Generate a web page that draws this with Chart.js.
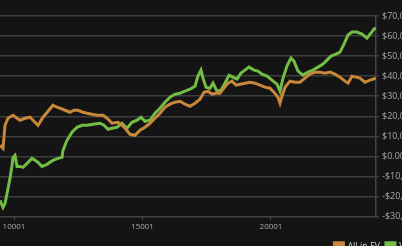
<!DOCTYPE html>
<html>
<head>
<meta charset="utf-8">
<script src="https://cdn.jsdelivr.net/npm/chart.js@4"></script>
<style>
  html, body { margin: 0; padding: 0; background: #141414; overflow: hidden; }
  #wrap { width: 402px; height: 246px; overflow: hidden; }
</style>
</head>
<body>
<div id="wrap"><canvas id="c" width="770" height="261"></canvas></div>
<script>
const seriesNames = ['All-in-EV', 'Winnings'];
const tickHands = [10001, 15001, 20001];
const yTicks = [-30000, -20000, -10000, 0, 10000, 20000, 30000, 40000, 50000, 60000, 70000];

const evHands = [9456, 9573, 9651, 9768, 9962, 10118, 10234, 10429, 10624, 10779,
  10935, 11129, 11324, 11518, 11674, 11791, 11985, 12180, 12336, 12491,
  12686, 12841, 13036, 13231, 13464, 13620, 13814, 14048, 14203, 14320,
  14515, 14709, 14904, 15098, 15293, 15487, 15682, 15876, 16071, 16266,
  16460, 16655, 16849, 17044, 17238, 17394, 17550, 17705, 17861, 18016,
  18172, 18328, 18483, 18639, 18795, 18989, 19184, 19378, 19573, 19768,
  19962, 20118, 20273, 20351, 20429, 20546, 20740, 20935, 21129, 21324,
  21518, 21713, 21907, 22102, 22297, 22491, 22686, 22880, 22997, 23153,
  23308, 23464, 23658, 23853, 24080];
const evValues = [5500, 4000, 15500, 19000, 20500, 19000, 18000, 19000, 19500, 17500,
  15500, 19500, 22500, 25500, 24500, 24000, 23000, 22000, 23000, 23000,
  22000, 21500, 21000, 20500, 20500, 19000, 16500, 17000, 15500, 14000,
  11000, 10500, 13000, 14500, 16500, 19000, 21500, 24500, 26000, 27000,
  27500, 26000, 25000, 26500, 28500, 32000, 32500, 31000, 31500, 31500,
  34000, 36500, 37500, 35500, 36000, 36500, 37000, 36500, 35500, 34500,
  34000, 32000, 29500, 26500, 30000, 34500, 37500, 37000, 37000, 39000,
  41000, 42000, 42000, 41500, 42000, 41000, 39500, 37500, 36500, 40000,
  39500, 39000, 37000, 38000, 39000];

const winHands = [9456, 9573, 9651, 9768, 9845, 9923, 9962, 10040, 10118, 10234,
  10351, 10507, 10701, 10896, 11090, 11285, 11518, 11713, 11869, 11908,
  12063, 12258, 12452, 12647, 12841, 13075, 13347, 13503, 13659, 13814,
  14009, 14203, 14398, 14592, 14787, 14943, 15098, 15293, 15487, 15682,
  15876, 16071, 16266, 16460, 16655, 16849, 17044, 17160, 17277, 17355,
  17472, 17627, 17744, 17900, 18055, 18211, 18367, 18522, 18678, 18834,
  18989, 19145, 19339, 19495, 19651, 19846, 20040, 20234, 20351, 20468,
  20623, 20779, 20896, 21051, 21246, 21441, 21635, 21830, 22024, 22180,
  22336, 22530, 22686, 22841, 22997, 23153, 23347, 23542, 23736, 23892,
  24009, 24087];
const winValues = [-22000, -25500, -23500, -16000, -11000, -4500, -500, 500, -5000, -5000,
  -5500, -3500, -1000, -2500, -5000, -4000, -2000, -1000, -500, 3000,
  8000, 12000, 14500, 15500, 15500, 16000, 16500, 15500, 13500, 14000,
  14500, 16500, 14000, 17000, 18000, 19500, 17500, 18000, 21500, 24000,
  27000, 29500, 31000, 31500, 32500, 33500, 35000, 40000, 43000, 39000,
  34500, 34000, 36500, 32500, 33000, 36500, 40500, 39500, 38500, 41500,
  43000, 44500, 43000, 42500, 41000, 40000, 38000, 36000, 32500, 39000,
  45000, 49000, 47500, 42500, 40500, 42000, 43000, 44500, 46000, 48000,
  50000, 51000, 52000, 56000, 60500, 62000, 62000, 61000, 59000, 61500,
  63500, 64000];

const toPoints = (xs, ys) => xs.map((x, i) => ({ x: x, y: ys[i] }));

function money(v) {
  const s = Math.abs(v).toLocaleString('en-US', { minimumFractionDigits: 2, maximumFractionDigits: 2 });
  return (v < 0 ? '-$' : '$') + s;
}

const canvas = document.getElementById('c');
const plotRight = 376;

Chart.defaults.font.family = '"Open Sans", sans-serif';
Chart.defaults.font.size = 8;
Chart.defaults.color = '#a8a8a8';

new Chart(canvas, {
  type: 'line',
  data: {
    datasets: [
      {
        label: seriesNames[0],
        data: toPoints(evHands, evValues),
        borderColor: '#c8873a',
        backgroundColor: '#c8873a',
        borderWidth: 3,
        pointRadius: 0,
        tension: 0
      },
      {
        label: seriesNames[1],
        data: toPoints(winHands, winValues),
        borderColor: '#72bd44',
        backgroundColor: '#72bd44',
        borderWidth: 3,
        pointRadius: 0,
        tension: 0
      }
    ]
  },
  options: {
    responsive: false,
    animation: false,
    layout: { padding: { top: 16, left: 0, right: 0, bottom: 0 } },
    plugins: {
      legend: {
        position: 'bottom',
        labels: { boxWidth: 9, boxHeight: 8, padding: 6, color: '#dcdcdc', font: { size: 8.5 } }
      },
      tooltip: { enabled: false }
    },
    scales: {
      x: {
        type: 'linear',
        min: 9456,
        max: 24087,
        afterBuildTicks: s => { s.ticks = tickHands.map(v => ({ value: v })); },
        afterFit: s => { s.height = 20; s.paddingLeft = 0; s.paddingRight = 0; },
        ticks: { padding: 1, maxRotation: 0, callback: v => String(v) },
        grid: { drawOnChartArea: false, color: '#444', tickLength: 4 },
        border: { color: '#444' }
      },
      y: {
        position: 'right',
        min: -30000,
        max: 70000,
        afterBuildTicks: s => { s.ticks = yTicks.map(v => ({ value: v })); },
        afterFit: s => { s.width = canvas.width - plotRight; },
        ticks: { padding: 3, font: { size: 9 }, callback: v => money(v) },
        grid: { color: '#3d3d3d', lineWidth: 1.5, tickLength: 3 },
        border: { color: '#444', width: 1.5 }
      }
    }
  }
});
</script>
</body>
</html>
